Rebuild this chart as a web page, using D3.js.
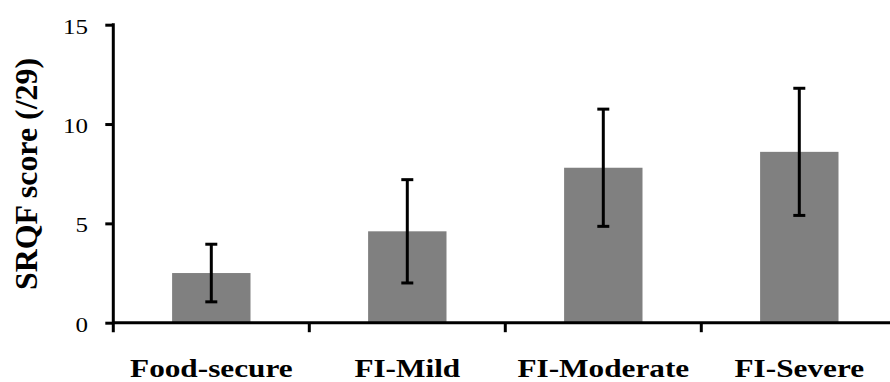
<!DOCTYPE html>
<html>
<head>
<meta charset="utf-8">
<script src="https://cdn.jsdelivr.net/npm/d3@7"></script>
<style>
  html, body { margin: 0; padding: 0; background: #fff; }
  svg { display: block; }
  text { font-family: "Liberation Serif", "Times New Roman", serif; fill: #000; }
</style>
</head>
<body>
<svg id="chart" width="890" height="382"></svg>
<script>
const categories = ["Food-secure", "FI-Mild", "FI-Moderate", "FI-Severe"];
const means = [2.5, 4.6, 7.8, 8.6];
const sds = [1.45, 2.6, 2.95, 3.2];
const yTicks = [0, 5, 10, 15];
const yTitle = "SRQF score (/29)";

const svg = d3.select("#chart");
const x0 = 113.3, yBottom = 322.7, yTop = 24.7;

const x = d3.scaleBand()
  .domain(categories)
  .range([x0, x0 + 4 * 196])
  .paddingInner(0.6)
  .paddingOuter(0.3);

const y = d3.scaleLinear().domain([0, 15]).range([yBottom, yTop]);

const data = categories.map((c, i) => ({ c, m: means[i], sd: sds[i] }));

// bars
svg.append("g").selectAll("rect").data(data).join("rect")
  .attr("x", d => x(d.c))
  .attr("width", x.bandwidth())
  .attr("y", d => y(d.m))
  .attr("height", d => y(0) - y(d.m))
  .attr("fill", "#808080");

// error bars
const eb = svg.append("g").attr("stroke", "#000").attr("stroke-width", 3);
data.forEach(d => {
  const cx = x(d.c) + x.bandwidth() / 2;
  eb.append("line").attr("x1", cx).attr("x2", cx)
    .attr("y1", y(d.m - d.sd)).attr("y2", y(d.m + d.sd));
  [d.m - d.sd, d.m + d.sd].forEach(v => {
    eb.append("line").attr("x1", cx - 6).attr("x2", cx + 6)
      .attr("y1", y(v)).attr("y2", y(v));
  });
});

// y axis
const yAxis = svg.append("g")
  .attr("transform", `translate(${x0},0)`)
  .call(d3.axisLeft(y).tickValues(yTicks).tickSize(8).tickSizeOuter(0).tickFormat(d3.format("d")));
yAxis.select(".domain").remove();
yAxis.selectAll(".tick line").attr("stroke", "#000").attr("stroke-width", 3);
yAxis.selectAll(".tick text")
  .attr("x", null).attr("dy", null)
  .attr("text-anchor", "end")
  .attr("font-size", 20)
  .attr("transform", `translate(${88 - x0},8.6) scale(1.25,1)`);
svg.append("line")
  .attr("x1", x0).attr("x2", x0)
  .attr("y1", yTop - 1.5).attr("y2", yBottom + 9.5)
  .attr("stroke", "#000").attr("stroke-width", 3);

// x axis line
svg.append("line")
  .attr("x1", x0).attr("x2", 890)
  .attr("y1", yBottom).attr("y2", yBottom)
  .attr("stroke", "#000").attr("stroke-width", 3);

// x boundary ticks
const bounds = categories.slice(0, -1).map(c => x(c) + x.bandwidth() / 2 + x.step() / 2);
svg.append("g").selectAll("line").data(bounds).join("line")
  .attr("x1", d => d).attr("x2", d => d)
  .attr("y1", yBottom).attr("y2", yBottom + 9.5)
  .attr("stroke", "#000").attr("stroke-width", 3);

// x labels
svg.append("g").selectAll("text").data(categories).join("text")
  .attr("text-anchor", "middle")
  .attr("font-weight", "bold")
  .attr("font-size", 25)
  .attr("transform", d => `translate(${x(d) + x.bandwidth() / 2},376.5) scale(1.25,1)`)
  .text(d => d);

// y title
svg.append("text")
  .attr("text-anchor", "middle")
  .attr("font-weight", "bold")
  .attr("font-size", 32)
  .attr("textLength", 232)
  .attr("lengthAdjust", "spacingAndGlyphs")
  .attr("transform", "translate(37,174) rotate(-90)")
  .text(yTitle);
</script>
</body>
</html>
